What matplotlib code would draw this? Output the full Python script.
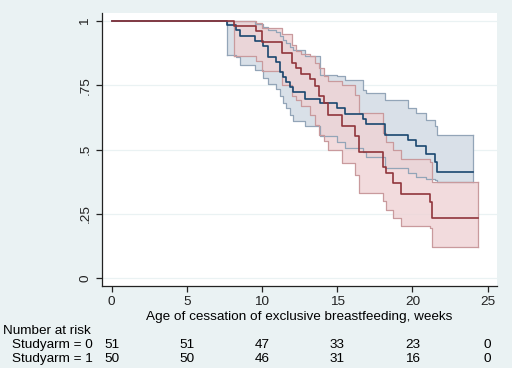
import matplotlib
matplotlib.use("Agg")
import matplotlib.pyplot as plt
import numpy as np

plt.rcParams['font.family'] = ['Liberation Sans', 'DejaVu Sans']

# Studyarm = 0 (navy)
arm0_t = [7.66, 8.26, 8.53, 9.52, 10.08, 10.41, 10.96, 11.18, 11.41, 11.58, 11.89, 12.07,
          12.85, 13.84, 15.02, 15.50, 16.72, 16.94, 18.16, 19.71, 20.27, 20.93, 21.48, 21.66]
arm0_s = [0.982, 0.963, 0.943, 0.921, 0.901, 0.860, 0.840, 0.800, 0.781, 0.761, 0.742, 0.722,
          0.698, 0.681, 0.661, 0.638, 0.620, 0.600, 0.558, 0.538, 0.512, 0.482, 0.451, 0.412]
arm0_hi = [1.0, 1.0, 1.0, 0.986, 0.978, 0.966, 0.955, 0.940, 0.926, 0.914, 0.900, 0.888,
           0.862, 0.791, 0.785, 0.772, 0.733, 0.720, 0.694, 0.661, 0.642, 0.616, 0.590, 0.555]
arm0_lo = [0.869, 0.860, 0.830, 0.808, 0.778, 0.755, 0.735, 0.707, 0.681, 0.660, 0.636, 0.610,
           0.590, 0.551, 0.530, 0.505, 0.490, 0.470, 0.430, 0.410, 0.395, 0.385, 0.380, 0.372]
arm0_end = 24.03

# Studyarm = 1 (maroon)
arm1_t = [8.15, 9.59, 10.01, 11.30, 12.03, 12.29, 12.62, 13.22, 13.51, 13.80, 14.11, 14.40,
          15.33, 16.21, 16.46, 18.05, 18.27, 18.72, 19.27, 21.15, 21.31]
arm1_s = [0.980, 0.960, 0.918, 0.875, 0.837, 0.817, 0.795, 0.776, 0.746, 0.707, 0.681, 0.636,
          0.593, 0.551, 0.492, 0.434, 0.409, 0.370, 0.327, 0.298, 0.233]
arm1_hi = [1.0, 0.99, 0.973, 0.947, 0.908, 0.882, 0.870, 0.862, 0.837, 0.817, 0.787, 0.765,
           0.752, 0.713, 0.642, 0.564, 0.530, 0.500, 0.462, 0.450, 0.372]
arm1_lo = [0.865, 0.843, 0.804, 0.752, 0.707, 0.694, 0.668, 0.636, 0.597, 0.558, 0.532, 0.499,
           0.447, 0.402, 0.330, 0.300, 0.266, 0.235, 0.201, 0.195, 0.123]
arm1_end = 24.36

risk_times = [0, 5, 10, 15, 20, 25]
risk_arm0 = [51, 51, 47, 33, 23, 0]
risk_arm1 = [50, 50, 46, 31, 16, 0]

y_ticks = [0, 0.25, 0.5, 0.75, 1]
y_labels = ['0', '.25', '.5', '.75', '1']

bg = '#eaf2f3'
fs = 9.7
fig = plt.figure(figsize=(5.12, 3.68), dpi=100, facecolor=bg)
ax = fig.add_axes([0.199, 0.223, 0.771, 0.742])
ax.set_facecolor('white')


def band(ax, t, lo, hi, end, face, edge, alpha, z):
    tt = t + [end]
    ll = lo + [lo[-1]]
    hh = hi + [hi[-1]]
    ax.fill_between(tt, ll, hh, step='post', facecolor=face, alpha=alpha, edgecolor='none', zorder=z)
    ax.step(tt, ll, where='post', color=edge, lw=0.9, zorder=3)
    ax.step(tt, hh, where='post', color=edge, lw=0.9, zorder=3)
    ax.plot([t[0], t[0]], [lo[0], hi[0]], color=edge, lw=0.9, zorder=3)
    ax.plot([end, end], [lo[-1], hi[-1]], color=edge, lw=0.9, zorder=3)


band(ax, arm0_t, arm0_lo, arm0_hi, arm0_end, '#d9e0e8', '#93a5b8', 1.0, 2)
band(ax, arm1_t, arm1_lo, arm1_hi, arm1_end, '#efd3d5', '#c99a9d', 0.8, 2.1)

ax.step([0] + arm0_t + [arm0_end], [1] + arm0_s + [arm0_s[-1]], where='post',
        color='#1a476f', lw=1.2, zorder=4)
ax.step([0] + arm1_t + [arm1_end], [1] + arm1_s + [arm1_s[-1]], where='post',
        color='#90353b', lw=1.2, zorder=4)

ax.set_xlim(-0.64, 25.6)
ax.set_ylim(-0.03, 1.031)
ax.set_xticks(risk_times)
ax.set_yticks(y_ticks)
ax.set_yticklabels(y_labels, rotation=90, va='center')
for y in y_ticks:
    ax.axhline(y, color='#eaf2f3', lw=0.9, zorder=1)
for s in ['top', 'right']:
    ax.spines[s].set_visible(False)
for s in ['left', 'bottom']:
    ax.spines[s].set_color('#222222')
    ax.spines[s].set_linewidth(0.9)
ax.tick_params(axis='both', labelsize=fs, colors='#222222', length=4, width=0.9)
ax.set_xlabel('Age of cessation of exclusive breastfeeding, weeks', fontsize=fs, labelpad=2)

# number at risk table
trans = matplotlib.transforms.blended_transform_factory(ax.transData, fig.transFigure)
fig.text(3 / 512, 1 - 331 / 368, 'Number at risk', fontsize=fs, va='center', ha='left')
fig.text(12 / 512, 1 - 345 / 368, 'Studyarm = 0', fontsize=fs, va='center', ha='left')
fig.text(12 / 512, 1 - 359 / 368, 'Studyarm = 1', fontsize=fs, va='center', ha='left')
for x, a, b in zip(risk_times, risk_arm0, risk_arm1):
    ax.text(x, 1 - 345 / 368, str(a), transform=trans, fontsize=fs, ha='center', va='center', clip_on=False)
    ax.text(x, 1 - 359 / 368, str(b), transform=trans, fontsize=fs, ha='center', va='center', clip_on=False)

fig.savefig('out.png', dpi=100, facecolor=bg)
